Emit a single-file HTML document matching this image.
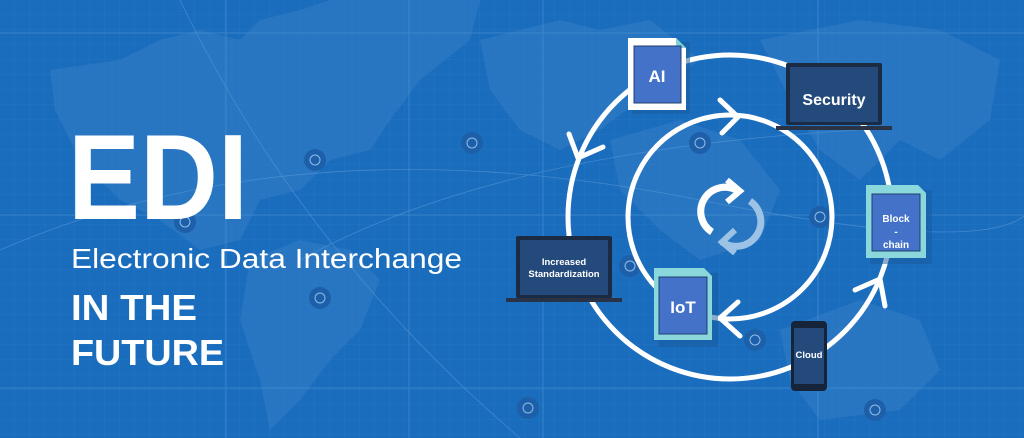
<!DOCTYPE html>
<html><head><meta charset="utf-8"><style>
html,body{margin:0;padding:0;width:1024px;height:438px;overflow:hidden;background:#1a6dbd}
svg{display:block}
text{font-family:"Liberation Sans",sans-serif}
</style></head><body>
<svg width="1024" height="438" viewBox="0 0 1024 438" xmlns="http://www.w3.org/2000/svg">
<rect width="1024" height="438" fill="#1a6dbd"/>
<defs>
<pattern id="g" width="15" height="15" patternUnits="userSpaceOnUse"><path d="M15 0V15H0" fill="none" stroke="#3a86cf" stroke-width="0.5" opacity="0.5"/></pattern>
</defs>
<g fill="#2876c1">
<polygon points="50,70 120,60 160,40 200,30 240,40 260,20 300,10 330,0 480,0 470,40 420,80 390,120 370,150 330,160 300,190 260,200 240,240 200,250 160,220 120,200 80,160 55,110"/>
<polygon points="250,260 300,240 350,250 380,280 360,330 330,360 300,400 270,430 260,380 240,320"/>
<polygon points="480,40 560,20 600,30 650,20 700,60 640,100 600,130 560,150 520,130 490,90"/>
<polygon points="610,140 680,120 740,140 780,190 760,240 700,260 660,230 620,190"/>
<polygon points="760,40 860,20 940,30 1000,60 990,120 940,160 900,140 860,180 820,150 790,100"/>
<polygon points="780,330 860,300 920,320 940,370 900,410 820,420 790,380"/>
</g>
<rect width="1024" height="438" fill="url(#g)"/>
<g stroke="#4a93d6" stroke-width="1" opacity="0.6">
<line x1="0" y1="33" x2="1024" y2="33"/><line x1="0" y1="215" x2="1024" y2="215"/><line x1="0" y1="388" x2="1024" y2="388"/>
<line x1="226" y1="0" x2="226" y2="438"/><line x1="409" y1="0" x2="409" y2="438"/><line x1="543" y1="0" x2="543" y2="438"/><line x1="818" y1="0" x2="818" y2="438"/>
</g>
<g fill="none" stroke="#5a9ad8" stroke-width="0.8" opacity="0.6">
<path d="M0 250 Q300 120 700 200 T1024 160"/><path d="M180 0 Q300 250 520 438"/><path d="M300 260 Q500 150 860 130"/>
</g>
<g fill="#1d5fa8"><circle cx="315" cy="160" r="11"/><circle cx="185" cy="222" r="11"/><circle cx="320" cy="298" r="11"/><circle cx="472" cy="143" r="11"/><circle cx="700" cy="143" r="11"/><circle cx="820" cy="217" r="11"/><circle cx="630" cy="266" r="11"/><circle cx="755" cy="340" r="11"/><circle cx="528" cy="408" r="11"/><circle cx="875" cy="410" r="11"/></g>
<g fill="none" stroke="#8fbde8" stroke-width="1"><circle cx="315" cy="160" r="5"/><circle cx="185" cy="222" r="5"/><circle cx="320" cy="298" r="5"/><circle cx="472" cy="143" r="5"/><circle cx="700" cy="143" r="5"/><circle cx="820" cy="217" r="5"/><circle cx="630" cy="266" r="5"/><circle cx="755" cy="340" r="5"/><circle cx="528" cy="408" r="5"/><circle cx="875" cy="410" r="5"/></g>

<text x="68" y="219" font-size="122" font-weight="bold" fill="#fff" textLength="180" lengthAdjust="spacingAndGlyphs">EDI</text>
<text x="71" y="268" font-size="28" fill="#fff" textLength="391" lengthAdjust="spacingAndGlyphs">Electronic Data Interchange</text>
<text x="71" y="320" font-size="36" font-weight="bold" fill="#fff" textLength="126" lengthAdjust="spacingAndGlyphs">IN THE</text>
<text x="71" y="365" font-size="36" font-weight="bold" fill="#fff" textLength="153" lengthAdjust="spacingAndGlyphs">FUTURE</text>

<g fill="none" stroke="#fff" stroke-width="5" stroke-linecap="round" stroke-linejoin="round">
<circle cx="730" cy="217" r="162"/>
<circle cx="730" cy="217" r="102"/>
<polyline points="569,134 578,158 603,147"/>
<polyline points="855,290 880,279 885,306"/>
<polyline points="720,100 738,117 722,133"/>
<polyline points="738,302 720,318 740,336"/>
</g>
<g fill="none" stroke-width="7">
<path d="M712 232 A22 22 0 0 1 738 191" stroke="#fff"/>
<path d="M750 201 A22 22 0 0 1 722 242" stroke="#9cc2e6"/>
</g>
<polyline points="727,180 740,191 727,202" fill="none" stroke="#fff" stroke-width="6"/>
<polyline points="735,230 722,242 735,253" fill="none" stroke="#9cc2e6" stroke-width="6"/>

<rect x="632" y="42" width="58" height="72" fill="#155a9c" opacity="0.5"/>
<polygon points="628,38 676,38 686,48 686,110 628,110" fill="#fff"/>
<polygon points="676,38 686,48 676,48" fill="#7fd3d8"/>
<rect x="634" y="46" width="47" height="57" fill="#4472c9" stroke="#1e3f6e" stroke-width="1"/>
<text x="657" y="82" font-size="17" font-weight="bold" fill="#fff" text-anchor="middle">AI</text>

<rect x="786" y="63" width="96" height="62" rx="2" fill="#1c2b44"/>
<rect x="790" y="67" width="88" height="55" fill="#244a7c"/>
<rect x="776" y="126" width="116" height="4" fill="#2a3245"/>
<text x="834" y="105" font-size="16" font-weight="bold" fill="#fff" text-anchor="middle">Security</text>

<rect x="870" y="190" width="62" height="74" fill="#155a9c" opacity="0.5"/>
<polygon points="866,185 918,185 926,193 926,258 866,258" fill="#8ad8dc"/>
<rect x="872" y="194" width="48" height="57" fill="#4472c9" stroke="#1e3f6e" stroke-width="1"/>
<text x="896" y="222" font-size="10" font-weight="bold" fill="#fff" text-anchor="middle">Block</text>
<text x="896" y="235" font-size="10" font-weight="bold" fill="#fff" text-anchor="middle">-</text>
<text x="896" y="248" font-size="10" font-weight="bold" fill="#fff" text-anchor="middle">chain</text>

<rect x="516" y="236" width="96" height="62" rx="2" fill="#1c2b44"/>
<rect x="520" y="240" width="88" height="55" fill="#244a7c"/>
<rect x="506" y="298" width="116" height="4" fill="#2a3245"/>
<text x="564" y="265" font-size="9.5" font-weight="bold" fill="#fff" text-anchor="middle">Increased</text>
<text x="564" y="277" font-size="9.5" font-weight="bold" fill="#fff" text-anchor="middle">Standardization</text>

<rect x="658" y="273" width="60" height="74" fill="#155a9c" opacity="0.5"/>
<polygon points="654,268 704,268 712,276 712,340 654,340" fill="#8ad8dc"/>
<rect x="659" y="277" width="48" height="57" fill="#4472c9" stroke="#1e3f6e" stroke-width="1"/>
<text x="683" y="313" font-size="17" font-weight="bold" fill="#fff" text-anchor="middle">IoT</text>

<rect x="791" y="321" width="36" height="70" rx="4" fill="#16243a"/>
<rect x="794" y="328" width="30" height="56" fill="#244a7c"/>
<text x="809" y="358" font-size="9.5" font-weight="bold" fill="#fff" text-anchor="middle">Cloud</text>
</svg>
</body></html>
